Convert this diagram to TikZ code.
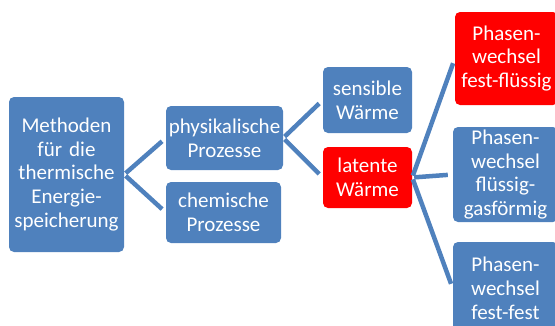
\documentclass[tikz,border=0pt]{standalone}
\usepackage{fontspec}
\setmainfont{Carlito}
\definecolor{cb}{RGB}{79, 129, 189}
\definecolor{cr}{RGB}{255, 0, 0}

\begin{document}
\begin{tikzpicture}[every node/.style={inner sep=0pt},
  box/.style={rectangle, rounded corners=5pt, fill=cb, text=white, align=center, font=\fontsize{21}{23.8}\selectfont},
  redbox/.style={box, fill=cr},
  link/.style={line width=4.5pt, color=cb, shorten <=2pt, shorten >=5pt}]
\clip (0pt, 0pt) rectangle (555pt, -325pt);
\node (1) [box, minimum width=115pt, minimum height=155pt, text width=113pt] at (66.5pt, -174.5pt) {Methoden\\für die\\thermische\\Energie-\\speicherung};
\node (2) [box, minimum width=117pt, minimum height=64pt, text width=117pt] at (224.5pt, -138pt) {physikalische\\Prozesse};
\node (3) [box, minimum width=115pt, minimum height=61pt, text width=113pt] at (223.5pt, -212.5pt) {chemische\\Prozesse};
\node (4) [box, minimum width=89pt, minimum height=66pt, text width=87pt] at (367.5pt, -100pt) {sensible\\Wärme};
\node (5) [redbox, minimum width=89pt, minimum height=61pt, text width=87pt] at (367.5pt, -177.5pt) {latente\\Wärme};
\node (6) [redbox, minimum width=103pt, minimum height=93pt, text width=103pt] at (506.5pt, -58.5pt) {Phasen-\\wechsel\\fest-flüssig};
\node (7) [box, minimum width=105pt, minimum height=95pt, text width=103pt] at (505.5pt, -174.5pt) {Phasen-\\wechsel\\flüssig-\\gasförmig};
\node (8) [box, minimum width=105pt, minimum height=93pt, text width=103pt] at (505.5pt, -288.5pt) {Phasen-\\wechsel\\fest-fest};
\draw [link] (1.east) to (2.west);
\draw [link] (1.east) to (3.west);
\draw [link] (2.east) to (4.west);
\draw [link] (2.east) to (5.west);
\draw [link] (5.east) to (6.west);
\draw [link] (5.east) to (7.west);
\draw [link] (5.east) to (8.west);
\end{tikzpicture}
\end{document}
